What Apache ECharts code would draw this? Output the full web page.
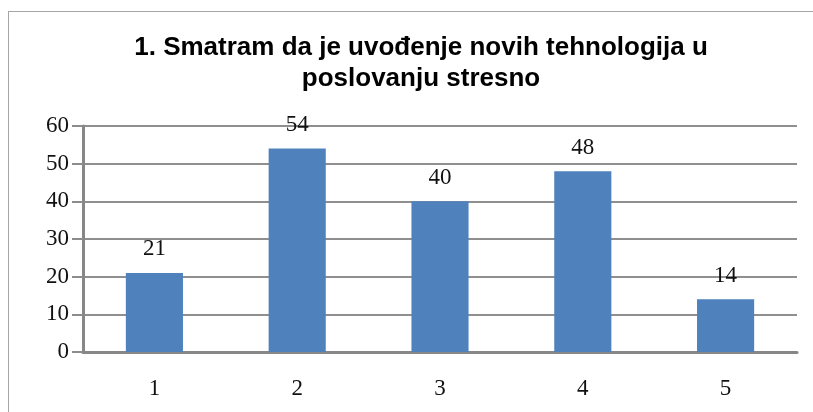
<!DOCTYPE html>
<html>
<head>
<meta charset="utf-8">
<script src="https://cdn.jsdelivr.net/npm/echarts@6/dist/echarts.min.js"></script>
<style>
    html, body { margin: 0; padding: 0; background: #fff; }
    #frame { position: absolute; left: 8px; top: 11px; width: 900px; height: 500px; border: 1.5px solid #a6a6a6; }
    #chart { position: absolute; left: 0; top: 0; width: 813px; height: 412px; }
</style>
</head>
<body>
<div id="frame"></div>
<div id="chart"></div>
<script>
    // podaci
    var titleText = '1. Smatram da je uvođenje novih tehnologija u\nposlovanju stresno';
    var categories = ['1', '2', '3', '4', '5'];
    var values = [21, 54, 40, 48, 14];
    var yTicks = { min: 0, max: 60, interval: 10 };

    var serif = '"Liberation Serif", "DejaVu Serif", serif';
    var myChart = echarts.init(document.getElementById('chart'));
    var options = {
        backgroundColor: 'transparent',
        animation: false,
        title: {
            text: titleText,
            left: 416,
            textAlign: 'center',
            top: 27,
            textStyle: {
                fontFamily: '"Liberation Sans", Arial, sans-serif',
                fontWeight: 'bold',
                fontSize: 26,
                lineHeight: 31,
                color: '#000'
            }
        },
        grid: {
            left: 83,
            right: 16,
            top: 126,
            bottom: 60
        },
        xAxis: {
            type: 'category',
            data: categories,
            offset: 6,
            axisLine: { lineStyle: { color: '#878787', width: 3 } },
            axisTick: { show: false },
            axisLabel: { margin: 19, fontFamily: serif, fontSize: 23, color: '#111' }
        },
        yAxis: {
            type: 'value',
            min: yTicks.min,
            max: yTicks.max,
            interval: yTicks.interval,
            axisLine: { show: true, lineStyle: { color: '#878787', width: 3 } },
            axisTick: { show: true, length: 11, lineStyle: { color: '#8c8c8c', width: 2 } },
            axisLabel: { margin: 14, fontFamily: serif, fontSize: 23, color: '#111' },
            splitLine: { lineStyle: { color: '#8f8f8f', width: 2 } }
        },
        series: [
            {
                type: 'bar',
                data: values,
                barWidth: '40%',
                itemStyle: { color: '#4F81BD' },
                label: {
                    show: true,
                    position: 'top',
                    distance: 12,
                    fontFamily: serif,
                    fontSize: 23,
                    color: '#111'
                }
            }
        ]
    };
    myChart.setOption(options);
</script>
</body>
</html>
